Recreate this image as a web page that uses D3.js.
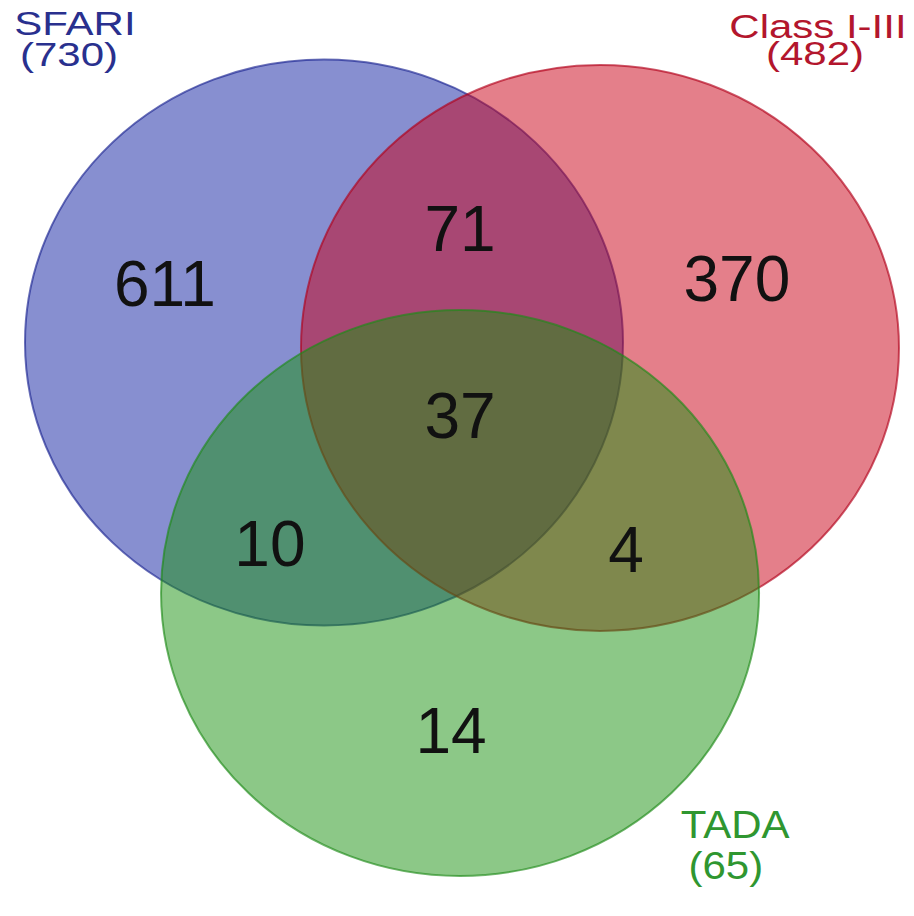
<!DOCTYPE html>
<html>
<head>
<meta charset="utf-8">
<script src="https://cdn.jsdelivr.net/npm/d3@7"></script>
<style>
  body { margin: 0; background: #fff; }
  text { font-family: "Liberation Sans", Arial, sans-serif; }
</style>
</head>
<body>
<script>
// Set names and sizes
var setNames = ["SFARI", "Class I-III", "TADA"];
var setTotals = [730, 482, 65];

// Region counts (only in set(s) listed)
var regionSets = [["SFARI"], ["SFARI", "Class I-III"], ["Class I-III"], ["SFARI", "Class I-III", "TADA"],
                  ["SFARI", "TADA"], ["Class I-III", "TADA"], ["TADA"]];
var regionCounts = [611, 71, 370, 37, 10, 4, 14];

// Layout (unit circle coordinates, radius = 1)
var circleCentres = [[0, 0], [0.923, 0.019], [0.455, 0.885]];
var regionSpots = [[-0.532, -0.129], [0.455, -0.322], [1.381, -0.147], [0.455, 0.337],
                   [-0.181, 0.790], [1.010, 0.811], [0.425, 1.451]];
// [name x, name y, total x, total y]
var setLabelSpots = [[-0.833, -1.087, -0.853, -0.977],
                     [1.652, -1.076, 1.642, -0.981],
                     [1.375, 1.751, 1.344, 1.896]];
var labelSquash = [0.8, 0.8, 0.92];

var fills = ["#0f1fa1", "#c90015", "#19910f"];
var strokes = ["#1a2390", "#b0001a", "#1f8a18"];
var textColors = ["#29308e", "#b3162d", "#2f9630"];

var svgWidth = 914;
var svgHeight = 916;

var svg = d3.select("body")
  .append("svg")
  .attr("width", svgWidth)
  .attr("height", svgHeight);

// unit -> pixel (image is a little squashed vertically)
var xScale = d3.scaleLinear().domain([-1, 1]).range([25, 623]);
var yScale = d3.scaleLinear().domain([-1, 1]).range([59.5, 625.5]);

var rx = xScale(1) - xScale(0);
var ry = yScale(1) - yScale(0);

svg.append("g")
  .selectAll("ellipse")
  .data(setNames)
  .enter()
  .append("ellipse")
  .attr("cx", (d, i) => xScale(circleCentres[i][0]))
  .attr("cy", (d, i) => yScale(circleCentres[i][1]))
  .attr("rx", rx)
  .attr("ry", ry)
  .attr("fill", (d, i) => fills[i])
  .attr("fill-opacity", 0.5)
  .attr("stroke", (d, i) => strokes[i])
  .attr("stroke-opacity", 0.65)
  .attr("stroke-width", 2);

// region numbers
svg.append("g")
  .selectAll("text")
  .data(regionCounts)
  .enter()
  .append("text")
  .attr("x", (d, i) => xScale(regionSpots[i][0]))
  .attr("y", (d, i) => yScale(regionSpots[i][1]))
  .attr("text-anchor", "middle")
  .attr("font-size", 64)
  .attr("fill", "#111")
  .text(d => d);

// set labels, name and total on two lines (text is a bit squat, like the original)
var labels = svg.append("g")
  .selectAll("g")
  .data(setNames)
  .enter()
  .append("g")
  .attr("fill", (d, i) => textColors[i])
  .attr("font-size", 42)
  .attr("text-anchor", "middle");

labels.append("text")
  .attr("transform", (d, i) => "translate(" + xScale(setLabelSpots[i][0]) + "," + yScale(setLabelSpots[i][1]) + ") scale(1," + labelSquash[i] + ")")
  .text(d => d);

labels.append("text")
  .attr("transform", (d, i) => "translate(" + xScale(setLabelSpots[i][2]) + "," + yScale(setLabelSpots[i][3]) + ") scale(1," + labelSquash[i] + ")")
  .text((d, i) => "(" + setTotals[i] + ")");
</script>
</body>
</html>
